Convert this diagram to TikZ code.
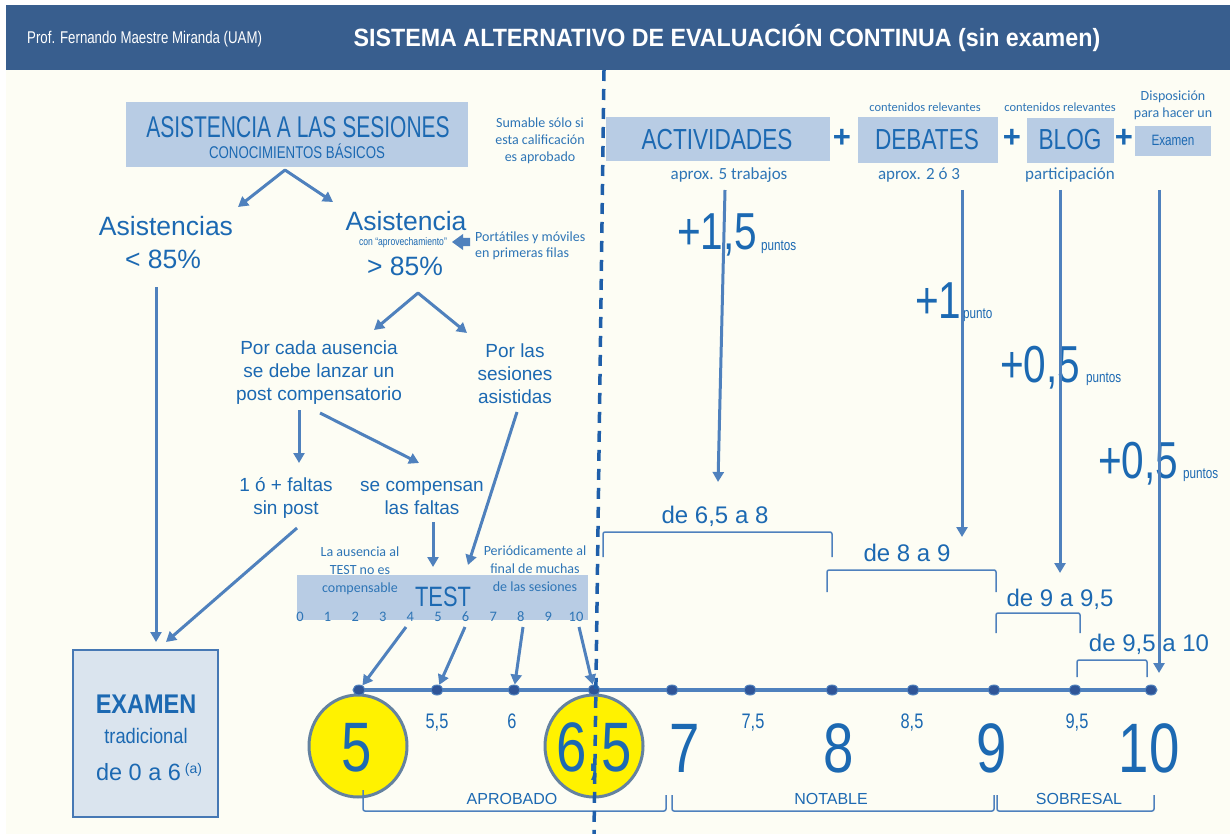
\documentclass[tikz,border=0pt]{standalone}
\usepackage{fontspec}
\setmainfont{Liberation Sans}
\newfontfamily\fNa[FakeStretch=0.7]{Liberation Sans}
\newfontfamily\fN[FakeStretch=0.78]{Liberation Sans}
\newfontfamily\fM[FakeStretch=0.87]{Liberation Sans}
\newfontfamily\fT[FakeStretch=0.93]{Liberation Sans}
\newfontfamily\fC{Carlito}
\usetikzlibrary{arrows.meta,shapes.geometric}
\newcommand\fsz[1]{\fontsize{#1}{#1}\selectfont}
\definecolor{bg}{RGB}{253,253,244}
\definecolor{hdr}{RGB}{56,94,142}
\definecolor{txt}{RGB}{28,105,178}
\definecolor{ctxt}{RGB}{46,117,182}
\definecolor{arr}{RGB}{79,129,189}
\definecolor{boxf}{RGB}{184,204,228}
\definecolor{dsh}{RGB}{31,95,170}
\definecolor{dotc}{RGB}{47,85,151}
\definecolor{exf}{RGB}{218,228,238}
\definecolor{exb}{RGB}{70,120,180}
\definecolor{circ}{RGB}{100,130,160}
\begin{document}
\begin{tikzpicture}[x=1pt,y=-1pt,
  tx/.style={text=txt, inner sep=0pt, anchor=base},
  hd/.style={text=white, inner sep=0pt, anchor=base},
  cal/.style={text=ctxt, inner sep=0pt, anchor=base, font=\fC\fsz{14}},
  ar/.style={draw=arr, line width=3pt, -{Triangle[length=10pt,width=11pt]}},
  ar2/.style={draw=arr, line width=3pt, {Triangle[length=10pt,width=11pt]}-{Triangle[length=10pt,width=11pt]}, line join=round},
  ln/.style={draw=arr, line width=3pt},
  bx/.style={fill=boxf, draw=none, inner sep=0pt},
  brk/.style={draw=arr, line width=1.5pt, rounded corners=2pt},
  dotn/.style={ellipse, fill=dotc, draw=arr, line width=1pt, minimum width=12pt, minimum height=10pt, inner sep=0pt},
  yc/.style={ellipse, fill=yellow, draw=circ, line width=3pt, minimum width=98pt, minimum height=102pt, inner sep=0pt},
  big/.style={tx, font=\fN\fsz{70}},
  sml/.style={tx, font=\fN\fsz{21}},
  rng/.style={tx, font=\fsz{24}},
  pts/.style={tx, anchor=base west, font=\fN\fsz{52}},
  ptu/.style={tx, anchor=base west, font=\fN\fsz{15}},
  plus/.style={tx, font=\bfseries\fsz{31}},
  body/.style={tx, font=\fsz{19}}
]
\useasboundingbox (0,0) rectangle (1230,834);
\fill[white] (0,0) rectangle (1230,834);
\fill[bg] (6,70) rectangle (1230,834);
\fill[hdr] (6,5) rectangle (1230,70);
\node[hd, anchor=base west, font=\fN\fsz{17}] (prof) at (27,44) {Prof. Fernando Maestre Miranda (UAM)};
\node[hd, font=\fT\bfseries\fsz{25}] (title) at (727,47) {SISTEMA ALTERNATIVO DE EVALUACIÓN CONTINUA (sin examen)};

% ---------- left block
\node[bx, minimum width=342pt, minimum height=65pt] (asisbox) at (297,134.5) {};
\node[tx, font=\fNa\fsz{30}] (asis1) at (298,138) {ASISTENCIA A LAS SESIONES};
\node[tx, font=\fN\fsz{17}] (asis2) at (297,159) {CONOCIMIENTOS BÁSICOS};

\coordinate (v1) at (285,170);
\coordinate (v1l) at (238,207);
\coordinate (v1r) at (333,202);
\draw[ar2] (v1l) -- (v1) -- (v1r);

\node[tx, font=\fsz{26.5}] (asl) at (166,236) {Asistencias};
\node[tx, font=\fsz{26.5}] (asl2) at (163,268) {< 85\%};
\node[tx, font=\fsz{26.5}] (asr) at (406,230) {Asistencia};
\node[tx, font=\fN\fsz{11}] (asr2) at (403,245) {con “aprovechamiento”};
\node[tx, font=\fsz{26.5}] (asr3) at (405,275) {> 85\%};

\fill[arr] (452,242) -- (463,234) -- (463,238) -- (470,238) -- (470,246) -- (463,246) -- (463,250) -- cycle;
\node[cal, anchor=base west] (port1) at (475,241) {Portátiles y móviles};
\node[cal, anchor=base west] (port2) at (475,257) {en primeras filas};

\node[cal] (sum1) at (540,128) {Sumable sólo si};
\node[cal] (sum2) at (540,145) {esta calificación};
\node[cal] (sum3) at (540,162) {es aprobado};

% EXAMEN box
\node[draw=exb, fill=exf, line width=2.5pt, minimum width=145pt, minimum height=167pt, inner sep=0pt] (exam) at (145.5,733.5) {};
\node[tx, font=\fM\bfseries\fsz{27}] (ex1) at (146,713) {EXAMEN};
\node[tx, font=\fM\fsz{21}] (ex2) at (146,743) {tradicional};
\node[tx, font=\fsz{23.5}] (ex3) at (149,780) {de 0 a 6\,\raisebox{7pt}{\fsz{14}(a)}};

\coordinate (al1) at (156,287);
\coordinate (al2) at (156,642);
\draw[ar] (al1) -- (al2);

\coordinate (v2) at (418,293);
\coordinate (v2l) at (374,330);
\coordinate (v2r) at (467,333);
\draw[ar2] (v2l) -- (v2) -- (v2r);

\node[body] (pc1) at (319,354) {Por cada ausencia};
\node[body] (pc2) at (319,377) {se debe lanzar un};
\node[body] (pc3) at (319,400) {post compensatorio};
\node[body] (ps1) at (515,357) {Por las};
\node[body] (ps2) at (515,380) {sesiones};
\node[body] (ps3) at (515,403) {asistidas};

\coordinate (pa1) at (299,410); \coordinate (pa2) at (299,463);
\draw[ar] (pa1) -- (pa2);
\coordinate (pb1) at (320,413); \coordinate (pb2) at (419,463);
\draw[ar] (pb1) -- (pb2);

\node[body] (f1) at (286,491) {1 ó + faltas};
\node[body] (f2) at (286,514) {sin post};
\node[body] (cf1) at (422,491) {se compensan};
\node[body] (cf2) at (422,514) {las faltas};

\coordinate (sp1) at (297,528); \coordinate (sp2) at (166,642);
\draw[ar] (sp1) -- (sp2);
\coordinate (cf3) at (433,522); \coordinate (cf4) at (433,567);
\draw[ar] (cf3) -- (cf4);
\coordinate (ps4) at (517,412); \coordinate (ps5) at (468,565);
\draw[ar] (ps4) -- (ps5);

% TEST
\node[bx, minimum width=291pt, minimum height=45pt] (test) at (442.5,597.5) {};
\node[tx, font=\fN\fsz{28}] (testt) at (443,606) {TEST};
\node[cal] (la1) at (360,556) {La ausencia al};
\node[cal] (la2) at (360,574) {TEST no es};
\node[cal] (la3) at (360,592) {compensable};
\node[cal] (pe1) at (535,555) {Periódicamente al};
\node[cal] (pe2) at (535,573) {final de muchas};
\node[cal] (pe3) at (535,591) {de las sesiones};
\foreach \i in {0,...,10} \node[cal, font=\fC\fsz{14.5}] (tn\i) at ({300+27.6*\i},621) {\i};

% number line
\coordinate (nlA) at (359,690); \coordinate (nlB) at (1151,690);
\node[yc] (c5) at (358,746) {};
\node[yc] (c65) at (594,746) {};
\draw[ln, line width=3.5pt] (nlA) -- (nlB);
\foreach \x [count=\k] in {359,437,514,594,672,750,832,913,994,1075,1151}
  \node[dotn] (d\k) at (\x,690) {};

\coordinate (ta1) at (406,627); \coordinate (ta2) at (465,627);
\coordinate (ta3) at (523,627); \coordinate (ta4) at (579,627);
\draw[ar] (ta1) -- (d1);
\draw[ar] (ta2) -- (d2);
\draw[ar] (ta3) -- (d3);
\draw[ar] (ta4) -- (d4);

\node[big] (n5) at (357,771) {5};
\node[big] (n65) at (594,771) {6,5};
\node[big] (n7) at (685,772) {7};
\node[big] (n8) at (839,772) {8};
\node[big] (n9) at (992,772) {9};
\node[big] (n10) at (1149,772) {10};
\node[sml] (s55) at (437,728) {5,5};
\node[sml] (s6) at (512,728) {6};
\node[sml] (s75) at (753,728) {7,5};
\node[sml] (s85) at (912,728) {8,5};
\node[sml] (s95) at (1077,728) {9,5};

% bottom brackets
\draw[brk] (363,790) -- (363,811) -- (666,811) -- (666,795);
\draw[brk] (672,795) -- (672,811) -- (994,811) -- (994,795);
\draw[brk] (997,795) -- (997,811) -- (1154,811) -- (1154,795);
\node[tx, font=\fsz{16}] (apr) at (512,804) {APROBADO};
\node[tx, font=\fsz{16}] (nota) at (831,804) {NOTABLE};
\node[tx, font=\fsz{16}] (sobr) at (1079,804) {SOBRESAL};

% ---------- right block
\node[bx, minimum width=224pt, minimum height=44pt] (act) at (718,139) {};
\node[tx, font=\fN\fsz{29}] (actt) at (717,150) {ACTIVIDADES};
\node[plus] (p1) at (842,148) {+};
\node[bx, minimum width=140pt, minimum height=46pt] (deb) at (928,140) {};
\node[tx, font=\fN\fsz{29}] (debt) at (927,150) {DEBATES};
\node[plus] (p2) at (1012,148) {+};
\node[bx, minimum width=87pt, minimum height=45pt] (blog) at (1070.5,140.5) {};
\node[tx, font=\fN\fsz{29}] (blogt) at (1070,150) {BLOG};
\node[plus] (p3) at (1124,148) {+};
\node[bx, minimum width=76pt, minimum height=30pt] (exs) at (1173,141) {};
\node[tx, font=\fN\fsz{15}] (exst) at (1173,146) {Examen};

\node[cal, font=\fC\fsz{12.5}] (cr1) at (925,112) {contenidos relevantes};
\node[cal, font=\fC\fsz{12.5}] (cr2) at (1060,112) {contenidos relevantes};
\node[cal, font=\fC\fsz{14}] (dis1) at (1173,101) {Disposición};
\node[cal, font=\fC\fsz{14}] (dis2) at (1173,118) {para hacer un};

\node[cal, font=\fC\fsz{17}] (ap5) at (729,180) {aprox. 5 trabajos};
\node[cal, font=\fC\fsz{17}] (ap2) at (919,180) {aprox. 2 ó 3};
\node[cal, font=\fC\fsz{17}] (part) at (1070,180) {participación};

\node[pts] (pt1) at (677,250) {+1,5};
\node[ptu] (pu1) at (761,251) {puntos};
\node[pts] (pt2) at (915,318) {+1};
\node[ptu] (pu2) at (963,318) {punto};
\node[pts] (pt3) at (1000,382) {+0,5};
\node[ptu] (pu3) at (1086,382) {puntos};
\node[pts] (pt4) at (1098,478) {+0,5};
\node[ptu] (pu4) at (1183,478) {puntos};

\coordinate (aa1) at (725,190); \coordinate (aa2) at (718,482);
\draw[ar] (aa1) -- (aa2);
\coordinate (ab1) at (962,190); \coordinate (ab2) at (962,537);
\draw[ar] (ab1) -- (ab2);
\coordinate (ac1) at (1060,190); \coordinate (ac2) at (1060,573);
\draw[ar] (ac1) -- (ac2);
\coordinate (ad1) at (1159,190); \coordinate (ad2) at (1159,673);
\draw[ar] (ad1) -- (ad2);

\node[rng] (r1) at (715,523) {de 6,5 a 8};
\draw[brk] (603,557) -- (603,532) -- (832,532) -- (832,557);
\node[rng] (r2) at (907,561) {de 8 a 9};
\draw[brk] (827,592) -- (827,570) -- (996,570) -- (996,592);
\node[rng] (r3) at (1060,606) {de 9 a 9,5};
\draw[brk] (996,633) -- (996,613) -- (1080,613) -- (1080,633);
\node[rng] (r4) at (1149,651) {de 9,5 a 10};
\draw[brk] (1077,677) -- (1077,660) -- (1147,660) -- (1147,677);

% dashed divider
\coordinate (dv1) at (604,70); \coordinate (dv2) at (594,834);
\draw[dsh, line width=3.5pt, dash pattern=on 11pt off 8pt] (dv1) -- (dv2);
\end{tikzpicture}
\end{document}
